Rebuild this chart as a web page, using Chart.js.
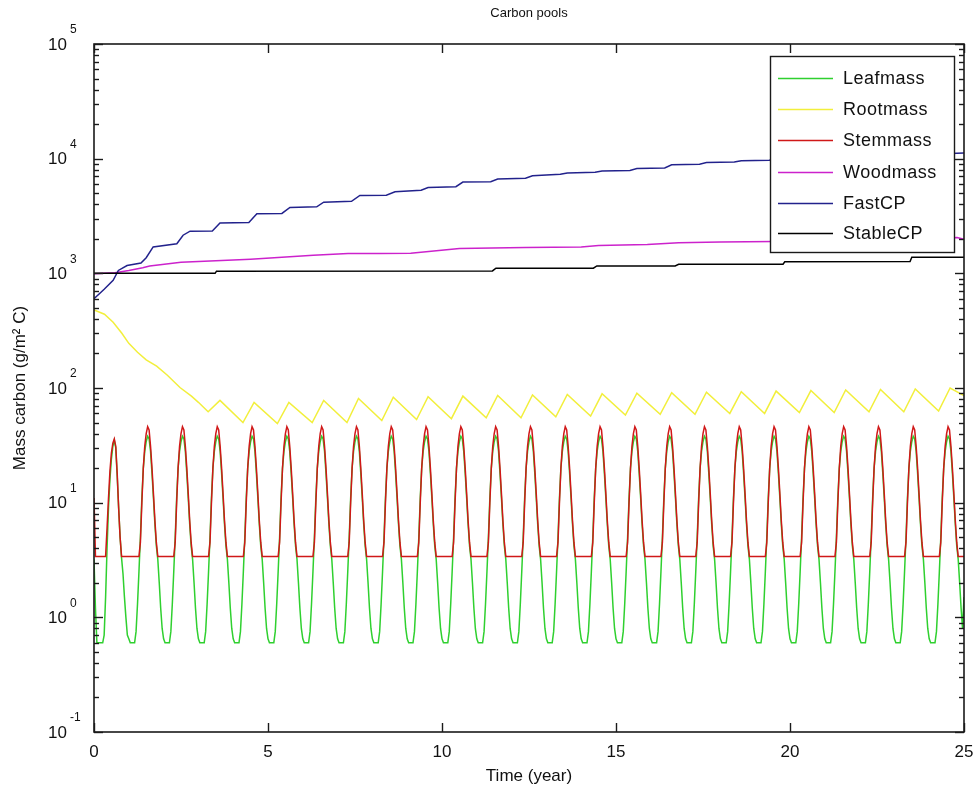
<!DOCTYPE html>
<html>
<head>
<meta charset="utf-8">
<title>Carbon pools</title>
<script src="https://cdn.jsdelivr.net/npm/chart.js@4.4.1/dist/chart.umd.min.js"></script>
<style>
  html, body { margin: 0; padding: 0; background: #ffffff; }
  #wrap { width: 977px; height: 793px; position: relative; }
</style>
</head>
<body>
<div id="wrap"><canvas id="chart" width="977" height="793"></canvas></div>
<script>
// ---- axes ----
const xTickValues = [0, 5, 10, 15, 20, 25];
const yExponents = [-1, 0, 1, 2, 3, 4, 5];
const runYears = 25;
const samplesPerYear = 24;          // half-month sampling of the seasonal pools

// ---- seasonal pools (g/m2 C), one value per half month ----
const leafFirstYear = [3.2, 1.2, 0.6, 0.6, 0.6, 0.6, 0.6, 0.7, 1.5, 4, 9, 16,
                       24, 31, 35, 30, 17, 9, 5, 3.3, 2.4, 1.5, 1.0, 0.7];
const leafSeason    = [0.65, 0.6, 0.6, 0.6, 0.6, 0.75, 1.3, 2.5, 5, 11, 20, 28,
                       34, 38, 36, 28, 18, 11, 6.5, 4.2, 3.2, 2.0, 1.2, 0.8];
const stemFirstYear = [11, 3.4, 3.4, 3.4, 3.4, 3.4, 3.4, 3.4, 3.4, 6, 11, 19,
                       27, 33, 36, 31, 18, 9, 5, 3.4, 3.4, 3.4, 3.4, 3.4];
const stemSeason    = [3.4, 3.4, 3.4, 3.4, 3.4, 3.4, 3.4, 3.4, 4.5, 10, 20, 31,
                       40, 46, 43, 31, 20, 12, 7, 4.5, 3.4, 3.4, 3.4, 3.4];
const leafFinal = 1.5;
const stemFinal = 3.4;

// ---- Rootmass: time (year) / value ----
const rootTimes = [0, 0.3, 0.55, 0.8, 1.0, 1.25, 1.5, 1.8, 2.1, 2.47, 2.8, 3.0, 3.28,
  3.62, 4.28, 4.6, 5.27, 5.6, 6.27, 6.6, 7.27, 7.6, 8.27, 8.6, 9.27, 9.6,
  10.27, 10.6, 11.27, 11.6, 12.27, 12.6, 13.27, 13.6, 14.27, 14.6, 15.27, 15.6,
  16.27, 16.6, 17.27, 17.6, 18.27, 18.6, 19.27, 19.6, 20.27, 20.6, 21.27, 21.6,
  22.27, 22.6, 23.27, 23.6, 24.27, 24.6, 25];
const rootValues = [480, 440, 375, 300, 245, 205, 176, 155, 130, 101, 85, 75, 62,
  78, 50, 75, 49, 75, 50, 78, 50, 81, 52, 83, 53, 84,
  54, 85, 55, 86, 55, 87, 56, 88, 57, 89, 58, 90,
  59, 91, 59, 92, 60, 93, 60, 94, 61, 95, 61, 96,
  62, 97, 62, 98, 63, 100, 86];

// ---- Woodmass ----
const woodTimes  = [0, 0.6, 1.0, 1.4, 1.6, 2.5, 3.5, 4.5, 5.4, 6.3, 7.3, 8.2, 9.1,
  10.5, 12.4, 14.0, 14.5, 15.9, 16.8, 18.0, 20.3, 22.0, 24.0, 24.8, 25];
const woodValues = [990, 1010, 1060, 1120, 1160, 1250, 1290, 1330, 1380, 1440, 1490, 1490, 1500,
  1650, 1680, 1700, 1750, 1780, 1850, 1880, 1900, 1950, 2000, 2050, 1980];

// ---- FastCP ----
const fastTimes  = [0, 0.3, 0.55, 0.7, 0.95, 1.35, 1.5, 1.7, 2.38, 2.56, 2.76, 3.4, 3.62,
  4.45, 4.68, 5.4, 5.63, 6.4, 6.6, 7.4, 7.64, 8.4, 8.65, 9.4, 9.6, 10.4, 10.6,
  11.4, 11.6, 12.4, 12.6, 13.4, 13.6, 14.4, 14.6, 15.4, 15.6, 16.4, 16.6, 17.4, 17.6,
  18.4, 18.6, 19.4, 19.6, 20.6, 21.6, 22.6, 23.6, 24.6, 25];
const fastValues = [600, 730, 870, 1060, 1170, 1230, 1370, 1700, 1810, 2150, 2330, 2340, 2750,
  2780, 3310, 3330, 3750, 3800, 4170, 4250, 4780, 4800, 5150, 5300, 5600, 5700, 6250,
  6300, 6650, 6750, 7100, 7300, 7500, 7600, 7800, 7900, 8200, 8300, 8850, 8950, 9250,
  9350, 9600, 9700, 9900, 10200, 10500, 10700, 10900, 11100, 11200];

// ---- StableCP ----
const stableTimes  = [0, 3.48, 3.52, 11.45, 11.55, 14.35, 14.45, 16.7, 16.8, 19.8, 19.85, 23.45, 23.5, 25];
const stableValues = [1000, 1000, 1045, 1050, 1110, 1110, 1160, 1160, 1200, 1200, 1260, 1270, 1380, 1380];

// ---- series styling ----
const seriesNames  = ['Leafmass', 'Rootmass', 'Stemmass', 'Woodmass', 'FastCP', 'StableCP'];
const seriesColors = ['#2fd02f', '#f2ef3c', '#d01818', '#cc22cc', '#22228c', '#000000'];

function seasonalPoints(firstYear, season, finalValue) {
  const pts = [];
  for (let yr = 0; yr < runYears; yr++) {
    const profile = yr === 0 ? firstYear : season;
    profile.forEach((v, k) => pts.push({ x: yr + k / samplesPerYear, y: v }));
  }
  pts.push({ x: runYears, y: finalValue });
  return pts;
}
function pairPoints(times, values) {
  return times.map((t, i) => ({ x: t, y: values[i] }));
}

const seriesPoints = [
  seasonalPoints(leafFirstYear, leafSeason, leafFinal),
  pairPoints(rootTimes, rootValues),
  seasonalPoints(stemFirstYear, stemSeason, stemFinal),
  pairPoints(woodTimes, woodValues),
  pairPoints(fastTimes, fastValues),
  pairPoints(stableTimes, stableValues)
];

const FONT = '"Liberation Sans", Arial, Helvetica, sans-serif';

// Axes box with inward ticks, power-of-ten labels and the boxed legend
const boxPlugin = {
  id: 'boxPlugin',
  afterDraw(chart) {
    const { ctx, chartArea: a, scales: { x, y } } = chart;
    ctx.save();
    ctx.strokeStyle = '#1a1a1a';
    ctx.lineWidth = 1.6;
    ctx.strokeRect(a.left, a.top, a.right - a.left, a.bottom - a.top);
    const seg = (x1, y1, x2, y2) => { ctx.beginPath(); ctx.moveTo(x1, y1); ctx.lineTo(x2, y2); ctx.stroke(); };
    ctx.lineWidth = 1.4;
    xTickValues.forEach(v => {
      const px = Math.round(x.getPixelForValue(v)) + 0.5;
      seg(px, a.bottom, px, a.bottom - 9);
      seg(px, a.top, px, a.top + 9);
    });
    yExponents.forEach((e, i) => {
      const base = Math.pow(10, e);
      const py = Math.round(y.getPixelForValue(base)) + 0.5;
      seg(a.left, py, a.left + 9, py);
      seg(a.right, py, a.right - 9, py);
      if (i < yExponents.length - 1) {
        for (let m = 2; m <= 9; m++) {
          const my = Math.round(y.getPixelForValue(m * base)) + 0.5;
          seg(a.left, my, a.left + 5, my);
          seg(a.right, my, a.right - 5, my);
        }
      }
    });
    // power-of-ten labels
    ctx.fillStyle = '#111';
    yExponents.forEach(e => {
      const py = y.getPixelForValue(Math.pow(10, e));
      ctx.font = '17px ' + FONT;
      ctx.textAlign = 'right';
      ctx.textBaseline = 'middle';
      ctx.fillText('10', 67, py + 1);
      ctx.font = '12px ' + FONT;
      ctx.textAlign = 'left';
      ctx.fillText(String(e), 70, py - 14);
    });
    // legend
    const lg = { left: 770, top: 56, right: 954, bottom: 252 };
    ctx.fillStyle = '#ffffff';
    ctx.fillRect(lg.left, lg.top, lg.right - lg.left, lg.bottom - lg.top);
    ctx.strokeStyle = '#1a1a1a';
    ctx.lineWidth = 1.4;
    ctx.strokeRect(lg.left + 0.5, lg.top + 0.5, lg.right - lg.left, lg.bottom - lg.top);
    const rowY = [78, 109, 140, 172, 203, 233];
    chart.data.datasets.forEach((ds, i) => {
      ctx.strokeStyle = ds.borderColor;
      ctx.lineWidth = 1.6;
      seg(778, rowY[i] + 0.5, 833, rowY[i] + 0.5);
      ctx.fillStyle = '#111';
      ctx.font = '18px ' + FONT;
      if ('letterSpacing' in ctx) ctx.letterSpacing = '0.5px';
      ctx.textAlign = 'left';
      ctx.textBaseline = 'middle';
      ctx.fillText(ds.label, 843, rowY[i] + 1);
      if ('letterSpacing' in ctx) ctx.letterSpacing = '0px';
    });
    ctx.restore();
  }
};

new Chart(document.getElementById('chart'), {
  type: 'line',
  data: {
    datasets: seriesNames.map((name, i) => ({
      label: name,
      data: seriesPoints[i],
      borderColor: seriesColors[i],
      backgroundColor: seriesColors[i],
      borderWidth: 1.5,
      pointRadius: 0,
      tension: 0,
      fill: false,
      order: seriesNames.length - i
    }))
  },
  options: {
    responsive: false,
    animation: false,
    events: [],
    layout: { padding: { left: 0, right: 13, top: 0, bottom: 0 } },
    plugins: {
      legend: { display: false },
      tooltip: { enabled: false },
      title: {
        display: true,
        fullSize: false,
        text: 'Carbon pools',
        color: '#111',
        font: { family: FONT, size: 13, weight: 'normal' },
        padding: { top: 5.2, bottom: 23.2 }
      }
    },
    scales: {
      x: {
        type: 'linear',
        min: 0,
        max: 25,
        afterBuildTicks(scale) { scale.ticks = xTickValues.map(v => ({ value: v })); },
        afterFit(scale) { scale.height = 61; scale.paddingLeft = 0; scale.paddingRight = 0; },
        grid: { display: false, drawTicks: false },
        border: { display: false },
        ticks: {
          color: '#111',
          padding: 10,
          maxRotation: 0,
          font: { family: FONT, size: 17 },
          callback: v => String(v)
        },
        title: {
          display: true,
          text: 'Time (year)',
          color: '#111',
          font: { family: FONT, size: 17 },
          padding: { top: 0, bottom: 6.8 }
        }
      },
      y: {
        type: 'logarithmic',
        min: 0.1,
        max: 100000,
        afterFit(scale) { scale.width = 94; scale.paddingTop = 0; scale.paddingBottom = 0; },
        grid: { display: false, drawTicks: false },
        border: { display: false },
        ticks: { display: false },
        title: {
          display: true,
          text: 'Mass carbon (g/m² C)',
          color: '#111',
          font: { family: FONT, size: 17 },
          padding: { top: 9.8, bottom: 0 }
        }
      }
    }
  },
  plugins: [boxPlugin]
});
</script>
</body>
</html>
